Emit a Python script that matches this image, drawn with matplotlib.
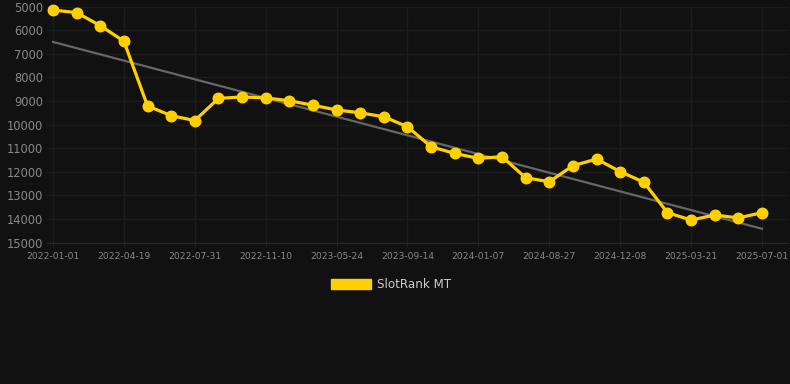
import numpy as np
from matplotlib import pyplot as plt
from matplotlib.patches import Patch

# rank values (lower is better, axis is inverted)
ranks = [5150, 5260, 5810, 6470, 9210, 9620, 9830, 8890, 8830, 8870,
         8990, 9180, 9380, 9500, 9670, 10090, 10940, 11220, 11430, 11360,
         12250, 12420, 11740, 11460, 11990, 12440, 13730, 14040, 13830, 13950,
         13730]
# only every third date is labelled on the axis
tickLabels = ['2022-01-01', '2022-04-19', '2022-07-31', '2022-11-10', '2023-05-24',
              '2023-09-14', '2024-01-07', '2024-08-27', '2024-12-08', '2025-03-21',
              '2025-07-01']
yTicks = [5000, 6000, 7000, 8000, 9000, 10000, 11000, 12000, 13000, 14000, 15000]
# trend line values at the first and last point
trend = [6500, 14410]
seriesName = 'SlotRank MT'

BG = '#111111'
GRID = '#1c1c1c'
YELLOW = '#FFD000'

x = np.arange(len(ranks))

fig = plt.figure(figsize=(7.9, 3.84), dpi=100, facecolor=BG)
ax = fig.add_axes([47 / 790, 1 - 242.7 / 384, (788 - 47) / 790, (242.7 - 6.5) / 384])
ax.set_facecolor(BG)

ax.plot([x[0], x[-1]], trend, color='#666666', linewidth=1.6, zorder=2)

ax.plot(x, ranks, color=YELLOW, linewidth=2.3, marker='o', markersize=7.6,
        zorder=3, clip_on=False)

ax.set_xlim(-(53 - 47) / 23.63, 30 + (788 - 762) / 23.63)
ax.set_ylim(15000, 5000)
ax.set_yticks(yTicks)
ax.set_yticklabels([str(v) for v in yTicks])
ax.set_xticks(x[::3])
ax.set_xticklabels(tickLabels)

ax.grid(True, color=GRID, linewidth=1)
ax.set_axisbelow(True)
for side in ['top', 'right', 'left']:
    ax.spines[side].set_visible(False)
ax.spines['bottom'].set_color('#2a2a2a')

ax.tick_params(axis='y', colors='#888888', labelsize=8.3, length=0, pad=3)
ax.tick_params(axis='x', colors='#222222', labelcolor='#888888', labelsize=6.6,
               length=3, pad=4)

fig.legend(handles=[Patch(facecolor=YELLOW, edgecolor=YELLOW, label=seriesName)],
           loc='center', bbox_to_anchor=(0.495, 1 - 284.5 / 384), frameon=False,
           labelcolor='#cccccc', fontsize=8.6, handlelength=3.3, handleheight=0.95,
           handletextpad=0.5)

fig.savefig('out.png', dpi=100, facecolor=BG)
